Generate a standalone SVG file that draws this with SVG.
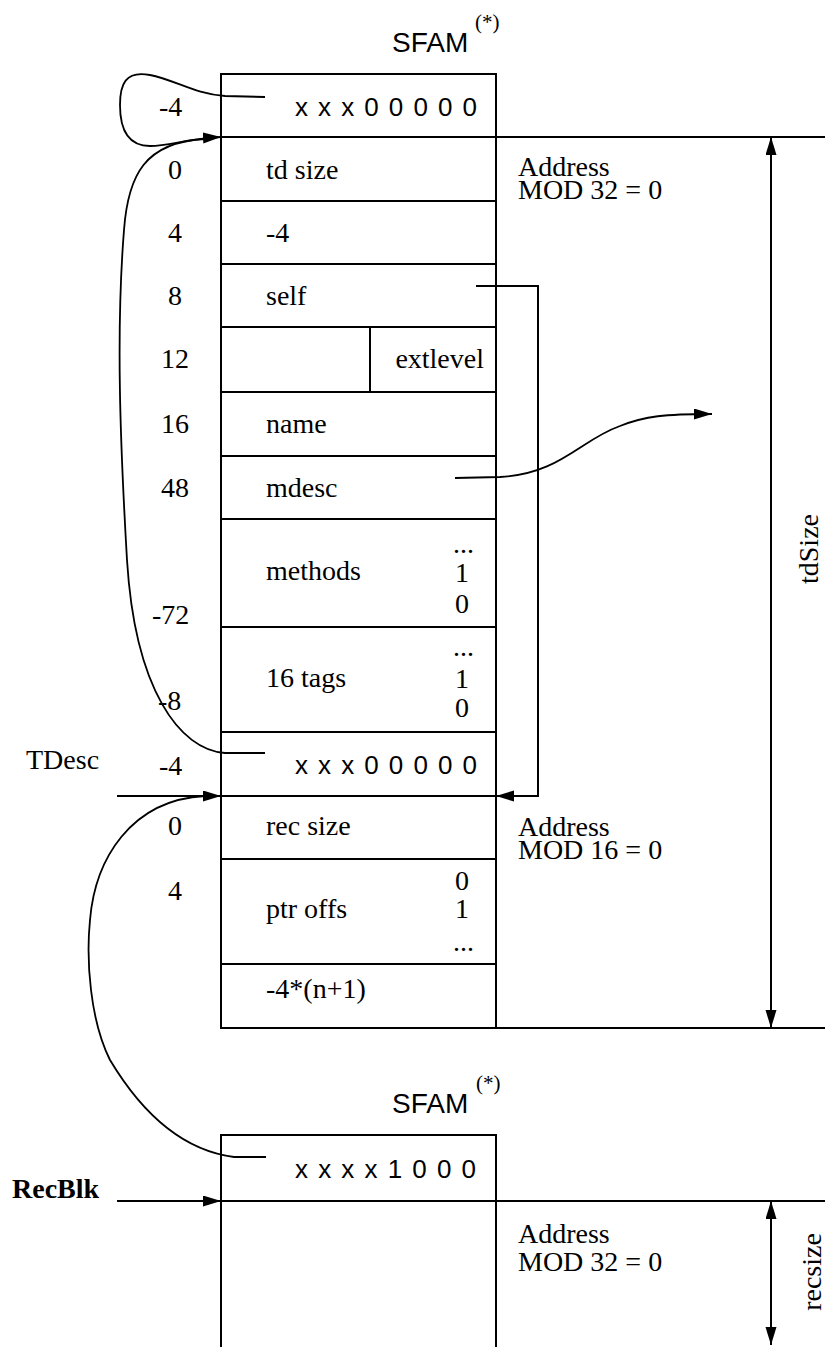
<svg xmlns="http://www.w3.org/2000/svg" width="825" height="1347" viewBox="0 0 825 1347">
<style>
.bx{fill:none;stroke:#000;stroke-width:2}
.ln{fill:none;stroke:#000;stroke-width:2}
.cv{fill:none;stroke:#000;stroke-width:1.8}
.s{font-family:"Liberation Serif","Times New Roman",serif;font-size:28px;fill:#000}
.sb{font-family:"Liberation Serif","Times New Roman",serif;font-size:28px;font-weight:bold;fill:#000}
.h{font-family:"Liberation Sans",Arial,sans-serif;font-size:28px;fill:#000}
.d{font-family:"Liberation Sans",Arial,sans-serif;font-size:26px;fill:#000}
.sup{font-family:"Liberation Serif","Times New Roman",serif;font-size:21px;fill:#000}
.r{text-anchor:end}
</style>
<defs>
<marker id="ah" markerUnits="userSpaceOnUse" markerWidth="18" markerHeight="12" refX="18" refY="5.5" orient="auto">
<path d="M0,0 L18,5.5 L0,11 z" fill="#000"/>
</marker>
<marker id="ahs" markerUnits="userSpaceOnUse" markerWidth="18" markerHeight="12" refX="18" refY="5.5" orient="auto-start-reverse">
<path d="M0,0 L18,5.5 L0,11 z" fill="#000"/>
</marker>
</defs>

<g id="title-top">
<text class="h" x="392" y="52">SFAM</text>
<text class="sup" x="475" y="29">(*)</text>
</g>

<g id="main-block">
<rect class="bx" x="221" y="74" width="275" height="954"/>
<g id="row-tag">
<text class="s" x="159" y="116">-4</text>
<text class="d" x="295" y="116" textLength="182" lengthAdjust="spacing">x x x 0 0 0 0 0</text>
</g>
<g id="row-tdsize">
<line class="bx" x1="221" y1="137" x2="496" y2="137"/>
<text class="s" x="168" y="179">0</text>
<text class="s" x="266" y="179">td size</text>
</g>
<g id="row-minus4">
<line class="bx" x1="221" y1="201" x2="496" y2="201"/>
<text class="s" x="168" y="242">4</text>
<text class="s" x="266" y="242">-4</text>
</g>
<g id="row-self">
<line class="bx" x1="221" y1="264" x2="496" y2="264"/>
<text class="s" x="168" y="305">8</text>
<text class="s" x="266" y="305">self</text>
</g>
<g id="row-extlevel">
<line class="bx" x1="221" y1="327" x2="496" y2="327"/>
<line class="bx" x1="370" y1="327" x2="370" y2="392"/>
<text class="s" x="161" y="368">12</text>
<text class="s r" x="484" y="368">extlevel</text>
</g>
<g id="row-name">
<line class="bx" x1="221" y1="392" x2="496" y2="392"/>
<text class="s" x="161" y="433">16</text>
<text class="s" x="266" y="433">name</text>
</g>
<g id="row-mdesc">
<line class="bx" x1="221" y1="456" x2="496" y2="456"/>
<text class="s" x="161" y="497">48</text>
<text class="s" x="266" y="497">mdesc</text>
</g>
<g id="row-methods">
<line class="bx" x1="221" y1="519" x2="496" y2="519"/>
<text class="s" x="266" y="580">methods</text>
<text class="s r" x="474" y="553">...</text>
<text class="s r" x="469" y="582">1</text>
<text class="s r" x="469" y="613">0</text>
<text class="s" x="152" y="624">-72</text>
</g>
<g id="row-tags">
<line class="bx" x1="221" y1="627" x2="496" y2="627"/>
<text class="s" x="266" y="687">16 tags</text>
<text class="s r" x="474" y="656">...</text>
<text class="s r" x="469" y="688">1</text>
<text class="s r" x="469" y="717">0</text>
<text class="s" x="158" y="710">-8</text>
</g>
<g id="row-tag2">
<line class="bx" x1="221" y1="732" x2="496" y2="732"/>
<text class="s" x="159" y="775">-4</text>
<text class="d" x="295" y="774" textLength="182" lengthAdjust="spacing">x x x 0 0 0 0 0</text>
</g>
<g id="row-recsize">
<line class="bx" x1="221" y1="796" x2="496" y2="796"/>
<text class="s" x="168" y="835">0</text>
<text class="s" x="266" y="835">rec size</text>
</g>
<g id="row-ptroffs">
<line class="bx" x1="221" y1="859" x2="496" y2="859"/>
<text class="s" x="168" y="900">4</text>
<text class="s" x="266" y="918">ptr offs</text>
<text class="s r" x="469" y="890">0</text>
<text class="s r" x="469" y="918">1</text>
<text class="s r" x="474" y="951">...</text>
</g>
<g id="row-sentinel">
<line class="bx" x1="221" y1="964" x2="496" y2="964"/>
<text class="s" x="266" y="998">-4*(n+1)</text>
</g>
</g>

<g id="addr-32">
<text class="s" x="518" y="176">Address</text>
<text class="s" x="518" y="199">MOD 32 = 0</text>
</g>
<g id="addr-16">
<text class="s" x="518" y="836">Address</text>
<text class="s" x="518" y="859">MOD 16 = 0</text>
</g>
<g id="tdesc-label"><text class="s" x="26" y="769">TDesc</text></g>
<g id="tdsize-label"><text class="s" transform="translate(818,549) rotate(-90)" text-anchor="middle">tdSize</text></g>

<g id="title-bottom">
<text class="h" x="392" y="1113">SFAM</text>
<text class="sup" x="476" y="1090">(*)</text>
</g>
<g id="rec-block">
<path class="bx" d="M221,1347 L221,1135 L496,1135 L496,1347"/>
<text class="d" x="295" y="1178" textLength="181" lengthAdjust="spacing">x x x x 1 0 0 0</text>
</g>
<g id="recblk-label"><text class="sb" x="12" y="1198">RecBlk</text></g>
<g id="addr-32b">
<text class="s" x="518" y="1243">Address</text>
<text class="s" x="518" y="1271">MOD 32 = 0</text>
</g>
<g id="recsize-label"><text class="s" transform="translate(821,1272) rotate(-90)" text-anchor="middle">recsize</text></g>

<g id="connectors">
<line class="ln" x1="496" y1="137" x2="825" y2="137"/>
<line class="ln" x1="496" y1="1028" x2="825" y2="1028"/>
<line class="ln" x1="771" y1="137" x2="771" y2="1028" marker-start="url(#ahs)" marker-end="url(#ah)"/>
<path class="cv" d="M265,97 L225,96 C195,94 175,80 150,75 C125,70 120,85 120,105 C120,125 125,146 150,146 C170,146 185,139 221,137" marker-end="url(#ah)"/>
<path class="cv" d="M265,753 L225,753 C180,750 135,690 127,560 C120,440 116,330 124,230 C128,175 145,142 205,139"/>
<path class="ln" d="M476,286 L538,286 L538,796 L496,796" marker-end="url(#ah)"/>
<path class="cv" d="M455,478 L500,477 C560,474 580,440 620,426 C645,416 665,414 712,414" marker-end="url(#ah)"/>
<line class="ln" x1="117" y1="796" x2="221" y2="796" marker-end="url(#ah)"/>
<path class="cv" d="M266,1157 L234,1157 C180,1150 140,1110 110,1060 C90,1020 86,960 90,920 C95,860 130,800 205,796"/>
<line class="ln" x1="117" y1="1201" x2="221" y2="1201" marker-end="url(#ah)"/>
<line class="ln" x1="221" y1="1201" x2="825" y2="1201"/>
<line class="ln" x1="771" y1="1201" x2="771" y2="1345" marker-start="url(#ahs)" marker-end="url(#ah)"/>
</g>
</svg>
